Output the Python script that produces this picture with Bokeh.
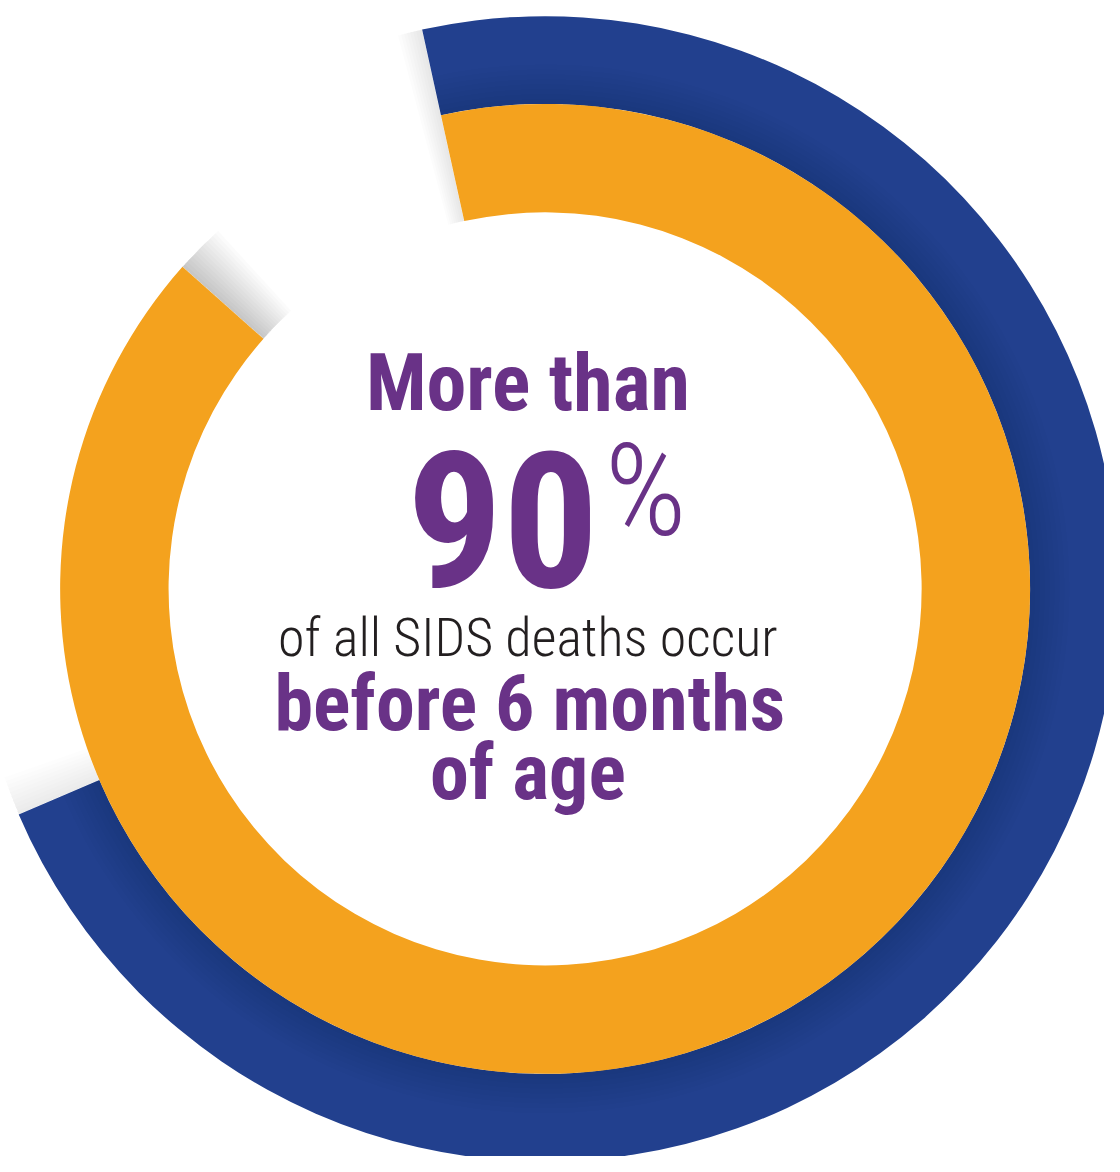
import math
from bokeh.plotting import figure
from bokeh.models import Range1d, ColumnDataSource
from bokeh.embed import file_html
from bokeh.resources import INLINE
from bokeh.core.properties import value

# ---- data ----
ring_labels = ["Outer arc", "SIDS deaths before 6 months of age"]
ring_percent = [72, 90]
headline_top = "More than"
big_number = "90"
big_unit = "%"
line_mid = "of all SIDS deaths occur"
line_bold_1 = "before 6 months"
line_bold_2 = "of age"

# ---- figure ----
W, H = 1104, 1156
p = figure(width=W, height=H, x_range=Range1d(0, 1120), y_range=Range1d(-1172, 0),
           output_backend="svg", toolbar_location=None, min_border=0)
p.axis.visible = False
p.grid.visible = False
p.outline_line_color = None
p.background_fill_color = "white"
p.border_fill_color = "white"

cx, cy = 552.5, -596.5
start = math.radians(102.4)
radii = [(492, 581), (382, 492)]
colors = ["#22408E", "#F4A21E"]
ends = [start - 2 * math.pi * v / 100.0 for v in ring_percent]

# soft shadows cast by the ring ends on the white background
def end_shadow(angle, r0, r1, sign, steps=14, span=6.0, amax=0.016):
    for k in range(steps):
        d = math.radians(span * (k + 1) / steps)
        a_a, a_b = (angle, angle + sign * d)
        lo, hi = min(a_a, a_b), max(a_a, a_b)
        p.annular_wedge(x=cx, y=cy, inner_radius=r0, outer_radius=r1,
                        start_angle=lo, end_angle=hi, direction="anticlock",
                        fill_color="black", fill_alpha=amax, line_color=None)

end_shadow(ends[1], 382, 492, -1)                                  # orange end, top-left
end_shadow(start, 382, 581, +1, steps=8, span=2.5, amax=0.012)     # start edge, top
end_shadow(ends[0], 492, 581, -1, steps=10, span=4.0, amax=0.009)  # blue end, lower-left

src = ColumnDataSource(dict(
    x=[cx, cx], y=[cy, cy],
    r0=[r[0] for r in radii], r1=[r[1] for r in radii],
    a0=[start, start], a1=ends,
    color=colors, label=ring_labels,
))
p.annular_wedge(x="x", y="y", inner_radius="r0", outer_radius="r1",
                start_angle="a0", end_angle="a1", direction="clock",
                fill_color="color", line_color=None, source=src)

# soft shadow of orange ring on blue ring
for k in range(8):
    p.annular_wedge(x=cx, y=cy, inner_radius=492, outer_radius=492 + 5 * (k + 1),
                    start_angle=start, end_angle=ends[0], direction="clock",
                    fill_color="black", fill_alpha=0.012, line_color=None)

purple = "#693287"
heavy = value("Roboto Condensed, DejaVu Sans Condensed")
light = value("Roboto Condensed Light, Roboto Light, DejaVu Sans Condensed")

K = 0.35  # baseline -> middle offset (fraction of font size)

def line(txt, x, base, size, font, style, color, align="center"):
    p.text(x=[x], y=[-(base - K * size)], text=[txt], text_font=font, text_font_style=style,
           text_font_size=f"{size}px", text_color=color, text_align=align, text_baseline="middle")

line(headline_top, 535, 416, 80, heavy, "bold", purple)
line(big_number, 607, 593, 190, heavy, "bold", purple, "right")
line(big_unit, 613, 542, 128, light, "normal", purple, "left")
line(line_mid, 535, 665, 54, light, "normal", "#231F20")
line(line_bold_1, 537, 740, 78, heavy, "bold", purple)
line(line_bold_2, 535, 810, 78, heavy, "bold", purple)

open("out.html", "w").write(file_html(p, INLINE))
